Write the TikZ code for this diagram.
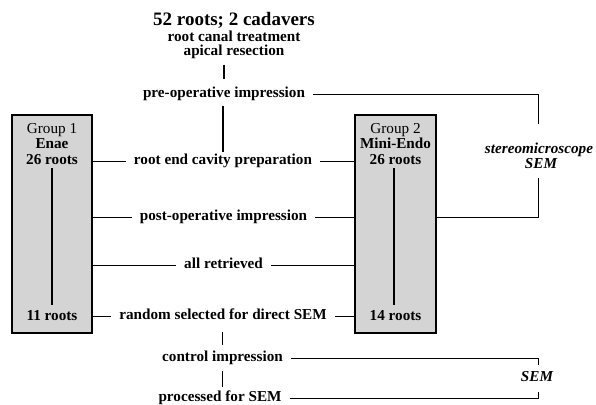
\documentclass[tikz,border=0pt]{standalone}
\usepackage{fontspec}
\setmainfont{Liberation Serif}
\begin{document}
\begin{tikzpicture}[x=1pt,y=-1pt,
  txt/.style={font=\fontsize{15.2}{15}\selectfont\bfseries, inner xsep=8pt, inner ysep=0pt, text height=10.3pt, text depth=3.4pt},
  rtxt/.style={txt, font=\fontsize{15.2}{15}\selectfont},
  itxt/.style={txt, font=\fontsize{15.2}{15}\selectfont\bfseries\itshape, inner xsep=0pt},
  ttl/.style={font=\fontsize{19}{19}\selectfont\bfseries, inner sep=0pt, text height=13pt, text depth=0pt},
  grp/.style={draw=black, line width=1.2pt, fill=black!17, inner sep=0pt},
  conn/.style={line width=0.9pt},
  vline/.style={line width=1.2pt}
]
\useasboundingbox (0,0) rectangle (596,404);

% group boxes
\node[grp, minimum width=80, minimum height=218] (box1) at (52,224) {};
\node[grp, minimum width=81, minimum height=218] (box2) at (395.5,224) {};

% title block
\node[ttl] (title) at (234,19.5) {52 roots; 2 cadavers};
\node[txt] (rct) at (234,38.5) {root canal treatment};
\node[txt] (apic) at (234,52.5) {apical resection};

% central column
\node[txt] (pre) at (224,94) {pre-operative impression};
\node[txt] (rec) at (223,161) {root end cavity preparation};
\node[txt] (post) at (223.5,217) {post-operative impression};
\node[txt] (allr) at (223.5,265) {all retrieved};
\node[txt] (rand) at (223,316) {random selected for direct SEM};
\node[txt] (ctrl) at (222.5,358) {control impression};
\node[txt] (proc) at (220,398) {processed for SEM};

% group texts
\node[rtxt] (g1a) at (52,130) {Group 1};
\node[txt] (g1b) at (52,145) {Enae};
\node[txt] (g1c) at (52,161) {26 roots};
\node[txt] (g1d) at (52,317) {11 roots};
\node[rtxt] (g2a) at (395.5,130) {Group 2};
\node[txt] (g2b) at (395.5,145) {Mini-Endo};
\node[txt] (g2c) at (395.5,161) {26 roots};
\node[txt] (g2d) at (395.5,317) {14 roots};

% right labels
\node[itxt] (stereo) at (539,150) {stereomicroscope};
\node[itxt] (sem1) at (541,165) {SEM};
\node[itxt] (sem2) at (537,378) {SEM};

% inner vertical lines
\coordinate (i1t) at (52,168);
\coordinate (i1b) at (52,305);
\coordinate (i2t) at (394,168);
\coordinate (i2b) at (394,305);
\draw[vline] (i1t) -- (i1b);
\draw[vline] (i2t) -- (i2b);

% vertical connectors in centre
\draw[vline, shorten <=5pt, shorten >=8pt] (apic.south -| pre.north) -- (pre.north);
\draw[vline, shorten <=5pt, shorten >=2pt] (pre.south -| 223,0) -- (rec.north -| 223,0);
\draw[vline, shorten <=9pt, shorten >=6pt] (rand.south -| ctrl.north) -- (ctrl.north);
\draw[vline, shorten <=6pt, shorten >=4pt] (ctrl.south) -- (ctrl.south |- proc.north);

% horizontal connectors to boxes
\draw[conn] (box1.east |- rec.west) -- (rec.west);
\draw[conn] (rec.east) -- (rec.east -| box2.west);
\draw[conn] (box1.east |- post.west) -- (post.west);
\draw[conn] (post.east) -- (post.east -| box2.west);
\draw[conn] (box1.east |- allr.west) -- (allr.west);
\draw[conn] (allr.east) -- (allr.east -| box2.west);
\draw[conn] (box1.east |- rand.west) -- (rand.west);
\draw[conn] (rand.east) -- (rand.east -| box2.west);

% right bracket: stereomicroscope / SEM
\coordinate (pa) at (538,124);
\coordinate (pb) at (538,178);
\draw[conn] (pre.east) -| (pa);
\draw[conn] (box2.east |- post.east) -| (pb);

% bottom bracket: SEM
\coordinate (qa) at (538,365);
\coordinate (qb) at (538,392);
\draw[conn] (ctrl.east) -| (qa);
\draw[conn] (proc.east) -| (qb);
\end{tikzpicture}
\end{document}
